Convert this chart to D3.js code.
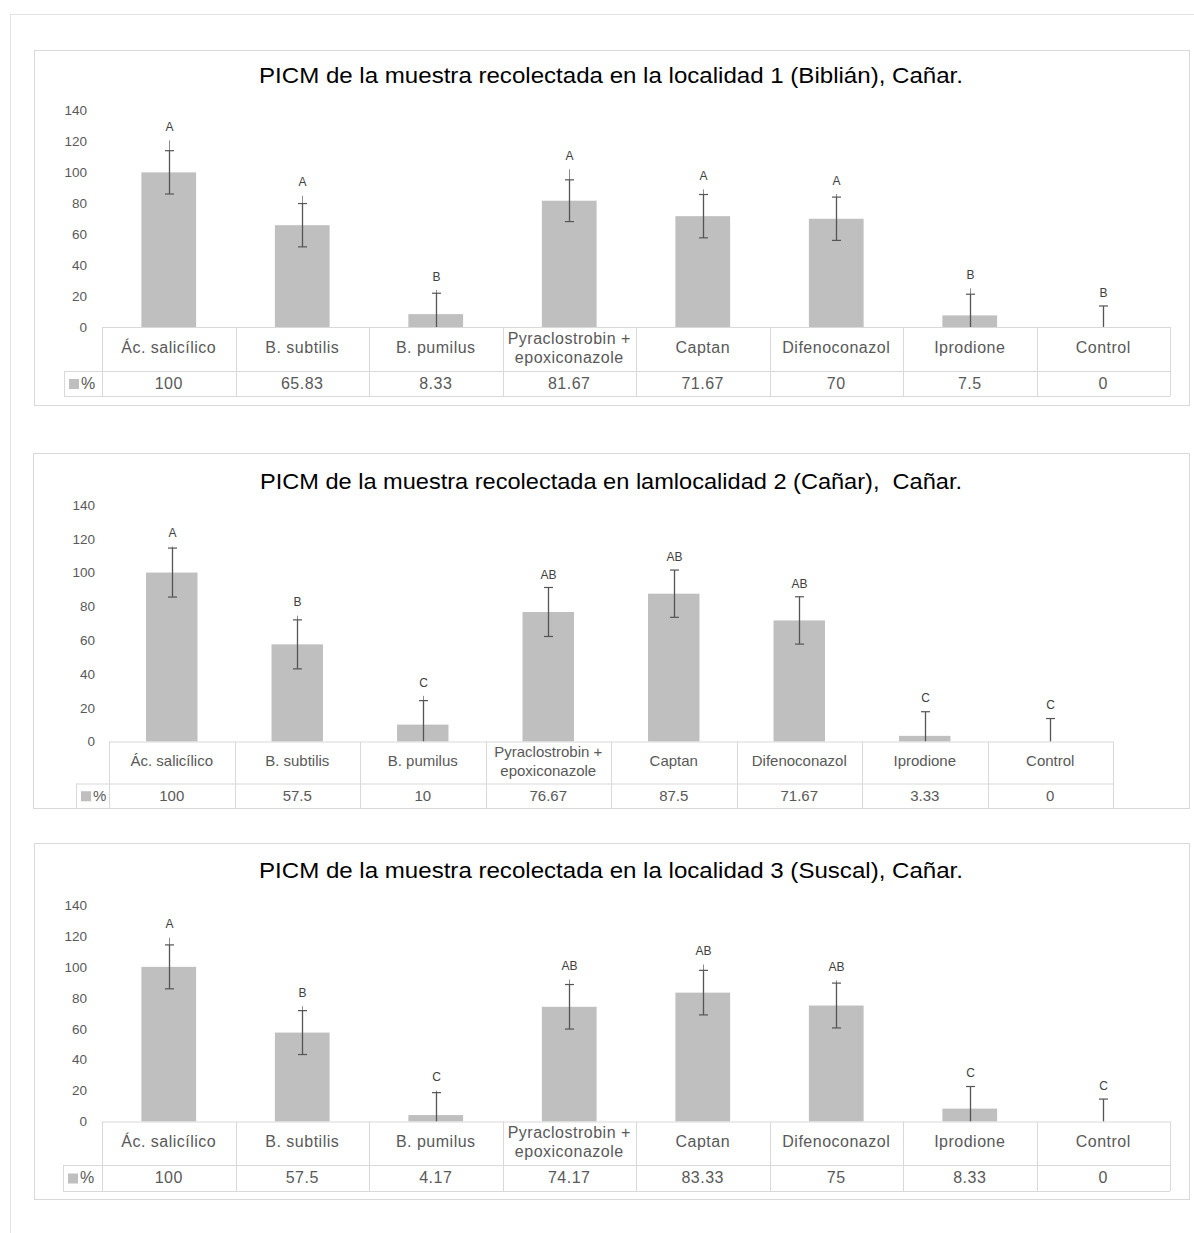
<!DOCTYPE html>
<html>
<head>
<meta charset="utf-8">
<script src="https://cdn.jsdelivr.net/npm/d3@7"></script>
<style>
  body { margin: 0; background: #fff; }
  svg text { font-family: "Liberation Sans", Arial, sans-serif; }
</style>
</head>
<body>
<svg id="fig" width="1194" height="1233"></svg>
<script>
// categories shared by the three charts
const categories = ["Ác. salicílico", "B. subtilis", "B. pumilus", "Pyraclostrobin +\nepoxiconazole",
                    "Captan", "Difenoconazol", "Iprodione", "Control"];
const yTicks = [0, 20, 40, 60, 80, 100, 120, 140];

const titles = [
  "PICM de la muestra recolectada en la localidad 1 (Biblián), Cañar.",
  "PICM de la muestra recolectada en lamlocalidad 2 (Cañar),  Cañar.",
  "PICM de la muestra recolectada en la localidad 3 (Suscal), Cañar."
];

// localidad 1
const values1 = [100, 65.83, 8.33, 81.67, 71.67, 70, 7.5, 0];
const err1 = [14, 14, 13.5, 13.5, 14, 14, 13.7, 13.6];
const whisker1 = [120.7, 84.9, 24, 102, 89, 86, 25, 13.6];
const letters1 = ["A", "A", "B", "A", "A", "A", "B", "B"];

// localidad 2
const values2 = [100, 57.5, 10, 76.67, 87.5, 71.67, 3.33, 0];
const err2 = [14.5, 14.5, 14.2, 14.5, 14, 14, 14.3, 13.6];
const whisker2 = [115.4, 74.5, 27, 90.9, 101.2, 85.2, 17.6, 13.6];
const letters2 = ["A", "B", "C", "AB", "AB", "AB", "C", "C"];

// localidad 3
const values3 = [100, 57.5, 4.17, 74.17, 83.33, 75, 8.33, 0];
const err3 = [14.2, 14.2, 14.5, 14.4, 14.4, 14.5, 14.3, 14.5];
const whisker3 = [118.8, 74.5, 20, 91.8, 101.5, 91.3, 22.6, 14.5];
const letters3 = ["A", "B", "C", "AB", "AB", "AB", "C", "C"];

const svg = d3.select("#fig");
const grid = "#d9d9d9";
const textGray = "#595959";

// outer page frame
svg.append("line").attr("x1", 10.5).attr("x2", 10.5).attr("y1", 14).attr("y2", 1233)
   .attr("stroke", "#e3e3e3");
svg.append("line").attr("x1", 10).attr("x2", 1194).attr("y1", 14.5).attr("y2", 14.5)
   .attr("stroke", "#e3e3e3");

// layout of each panel
const layouts = [
  {box: [34, 50, 1155, 355], titleY: 77, titleW: 704, yTop: 110.5, base: 327, labelX: 87,
   x0: 102, x1: 1170, row1: 371, row2: 396, legX: 64, font: 16, spacing: 0.5},
  {box: [33, 453, 1156, 355], titleY: 483, titleW: 702, yTop: 505, base: 741.5, labelX: 95,
   x0: 109, x1: 1113, row1: 783.5, row2: 808, legX: 76, font: 15, spacing: 0},
  {box: [34, 843, 1155, 356], titleY: 872, titleW: 704, yTop: 905, base: 1121.5, labelX: 87,
   x0: 102, x1: 1170, row1: 1165, row2: 1191, legX: 63, font: 16, spacing: 0.5}
];

const series = [
  {values: values1, err: err1, whisker: whisker1, letters: letters1},
  {values: values2, err: err2, whisker: whisker2, letters: letters2},
  {values: values3, err: err3, whisker: whisker3, letters: letters3}
];

function drawChart(i) {
  const L = layouts[i];
  const s = series[i];
  const g = svg.append("g");

  g.append("rect")
    .attr("x", L.box[0] + 0.5).attr("y", L.box[1] + 0.5)
    .attr("width", L.box[2]).attr("height", L.box[3])
    .attr("fill", "#fff").attr("stroke", grid);

  g.append("text")
    .attr("x", 611).attr("y", L.titleY)
    .attr("text-anchor", "middle").attr("dominant-baseline", "middle")
    .attr("font-size", 22).attr("fill", "#000")
    .style("white-space", "pre")
    .attr("textLength", L.titleW).attr("lengthAdjust", "spacingAndGlyphs")
    .text(titles[i]);

  const y = d3.scaleLinear().domain([0, 140]).range([L.base, L.yTop]);
  const x = d3.scaleBand().domain(categories).range([L.x0, L.x1])
    .paddingInner(0.59).paddingOuter(0.295);

  // y axis labels only
  const axis = g.append("g")
    .attr("transform", `translate(${L.labelX},0)`)
    .call(d3.axisLeft(y).tickValues(yTicks).tickSize(0).tickPadding(0));
  axis.select(".domain").remove();
  axis.selectAll("text")
    .attr("font-family", "'Liberation Sans', Arial, sans-serif")
    .attr("font-size", 13.5).attr("fill", textGray);

  // bars
  g.selectAll(".bar").data(s.values).enter().append("rect")
    .attr("x", (d, j) => x(categories[j]))
    .attr("y", d => y(d))
    .attr("width", x.bandwidth())
    .attr("height", d => y(0) - y(d))
    .attr("fill", "#bfbfbf");

  // error bars
  const cap = 4.5;
  s.values.forEach((v, j) => {
    const cx = Math.round(x(categories[j]) + x.bandwidth() / 2) + 0.5;
    const lo = Math.max(0, v - s.err[j]);
    const hi = v + s.err[j];
    g.append("line").attr("x1", cx).attr("x2", cx)
      .attr("y1", y(hi)).attr("y2", y(s.whisker[j]))
      .attr("stroke", "#8c8c8c").attr("stroke-width", 1);
    g.append("line").attr("x1", cx).attr("x2", cx)
      .attr("y1", y(lo)).attr("y2", y(hi))
      .attr("stroke", "#555").attr("stroke-width", 1.3);
    g.append("line").attr("x1", cx - cap).attr("x2", cx + cap)
      .attr("y1", y(hi)).attr("y2", y(hi))
      .attr("stroke", "#555").attr("stroke-width", 1.2);
    if (v - s.err[j] > 0) {
      g.append("line").attr("x1", cx - cap).attr("x2", cx + cap)
        .attr("y1", y(lo)).attr("y2", y(lo))
        .attr("stroke", "#555").attr("stroke-width", 1.2);
    }
    g.append("text")
      .attr("x", cx).attr("y", y(s.whisker[j]) - 12.5)
      .attr("text-anchor", "middle").attr("dominant-baseline", "middle")
      .attr("font-size", 12).attr("fill", "#404040")
      .text(s.letters[j]);
  });

  // data table
  const step = x.step();
  const t = g.append("g").attr("stroke", grid).attr("stroke-width", 1);
  t.append("line").attr("x1", L.x0).attr("x2", L.x1).attr("y1", L.base + 0.5).attr("y2", L.base + 0.5);
  t.append("line").attr("x1", L.legX).attr("x2", L.x1).attr("y1", L.row1 + 0.5).attr("y2", L.row1 + 0.5);
  t.append("line").attr("x1", L.legX).attr("x2", L.x1).attr("y1", L.row2 + 0.5).attr("y2", L.row2 + 0.5);
  t.append("line").attr("x1", L.legX + 0.5).attr("x2", L.legX + 0.5).attr("y1", L.row1).attr("y2", L.row2);
  d3.range(categories.length + 1).forEach(k => {
    const xx = Math.round(L.x0 + k * step) + 0.5;
    t.append("line").attr("x1", xx).attr("x2", xx).attr("y1", L.base).attr("y2", L.row2);
  });

  const rowMid = (L.base + L.row1) / 2;
  categories.forEach((c, j) => {
    const cx = x(c) + x.bandwidth() / 2;
    const lines = c.split("\n");
    const tx = g.append("text")
      .attr("x", cx).attr("text-anchor", "middle")
      .attr("font-size", L.font).attr("fill", textGray)
      .attr("letter-spacing", L.spacing);
    lines.forEach((ln, k) => {
      tx.append("tspan").attr("x", cx)
        .attr("y", rowMid + (k - (lines.length - 1) / 2) * 19)
        .attr("dominant-baseline", "middle")
        .text(ln);
    });
    g.append("text")
      .attr("x", cx).attr("y", (L.row1 + L.row2) / 2 + 1)
      .attr("text-anchor", "middle").attr("dominant-baseline", "middle")
      .attr("font-size", L.font).attr("fill", textGray)
      .attr("letter-spacing", L.spacing)
      .text(s.values[j]);
  });

  // legend key
  const ly = (L.row1 + L.row2) / 2;
  g.append("rect").attr("x", L.legX + 5).attr("y", ly - 4.5)
    .attr("width", 10).attr("height", 10).attr("fill", "#bfbfbf");
  g.append("text").attr("x", L.legX + 17).attr("y", ly + 1)
    .attr("dominant-baseline", "middle")
    .attr("font-size", L.font).attr("fill", textGray)
    .text("%");
}

[0, 1, 2].forEach(drawChart);
</script>
</body>
</html>
